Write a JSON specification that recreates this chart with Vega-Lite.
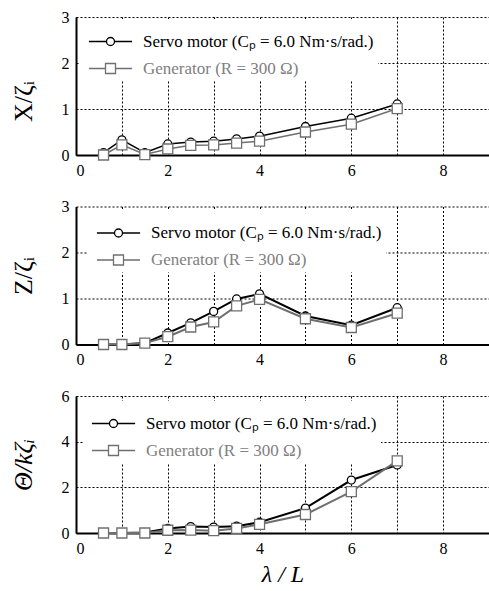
{
  "$schema": "https://vega.github.io/schema/vega-lite/v6.json",
  "padding": {"left": 10, "top": 9, "right": 0, "bottom": 0},
  "spacing": 20.5,
  "datasets": {
    "x_disp": [
      {"lambda": 0.6, "s": "servo", "v": 0.05}, {"lambda": 1.0, "s": "servo", "v": 0.33},
      {"lambda": 1.5, "s": "servo", "v": 0.05}, {"lambda": 2.0, "s": "servo", "v": 0.24},
      {"lambda": 2.5, "s": "servo", "v": 0.28}, {"lambda": 3.0, "s": "servo", "v": 0.30},
      {"lambda": 3.5, "s": "servo", "v": 0.35}, {"lambda": 4.0, "s": "servo", "v": 0.41},
      {"lambda": 5.0, "s": "servo", "v": 0.62}, {"lambda": 6.0, "s": "servo", "v": 0.80},
      {"lambda": 7.0, "s": "servo", "v": 1.11},
      {"lambda": 0.6, "s": "gen", "v": 0.0}, {"lambda": 1.0, "s": "gen", "v": 0.22},
      {"lambda": 1.5, "s": "gen", "v": 0.01}, {"lambda": 2.0, "s": "gen", "v": 0.13},
      {"lambda": 2.5, "s": "gen", "v": 0.21}, {"lambda": 3.0, "s": "gen", "v": 0.22},
      {"lambda": 3.5, "s": "gen", "v": 0.26}, {"lambda": 4.0, "s": "gen", "v": 0.30},
      {"lambda": 5.0, "s": "gen", "v": 0.50}, {"lambda": 6.0, "s": "gen", "v": 0.67},
      {"lambda": 7.0, "s": "gen", "v": 1.01}
    ],
    "z_disp": [
      {"lambda": 0.6, "s": "servo", "v": 0.0}, {"lambda": 1.0, "s": "servo", "v": 0.0},
      {"lambda": 1.5, "s": "servo", "v": 0.03}, {"lambda": 2.0, "s": "servo", "v": 0.25},
      {"lambda": 2.5, "s": "servo", "v": 0.47}, {"lambda": 3.0, "s": "servo", "v": 0.72},
      {"lambda": 3.5, "s": "servo", "v": 0.99}, {"lambda": 4.0, "s": "servo", "v": 1.10},
      {"lambda": 5.0, "s": "servo", "v": 0.62}, {"lambda": 6.0, "s": "servo", "v": 0.42},
      {"lambda": 7.0, "s": "servo", "v": 0.80},
      {"lambda": 0.6, "s": "gen", "v": 0.0}, {"lambda": 1.0, "s": "gen", "v": 0.0},
      {"lambda": 1.5, "s": "gen", "v": 0.03}, {"lambda": 2.0, "s": "gen", "v": 0.17},
      {"lambda": 2.5, "s": "gen", "v": 0.38}, {"lambda": 3.0, "s": "gen", "v": 0.49},
      {"lambda": 3.5, "s": "gen", "v": 0.84}, {"lambda": 4.0, "s": "gen", "v": 0.98},
      {"lambda": 5.0, "s": "gen", "v": 0.56}, {"lambda": 6.0, "s": "gen", "v": 0.37},
      {"lambda": 7.0, "s": "gen", "v": 0.68}
    ],
    "pitch": [
      {"lambda": 0.6, "s": "servo", "v": 0.0}, {"lambda": 1.0, "s": "servo", "v": 0.0},
      {"lambda": 1.5, "s": "servo", "v": 0.02}, {"lambda": 2.0, "s": "servo", "v": 0.20},
      {"lambda": 2.5, "s": "servo", "v": 0.28}, {"lambda": 3.0, "s": "servo", "v": 0.26},
      {"lambda": 3.5, "s": "servo", "v": 0.30}, {"lambda": 4.0, "s": "servo", "v": 0.47},
      {"lambda": 5.0, "s": "servo", "v": 1.09}, {"lambda": 6.0, "s": "servo", "v": 2.32},
      {"lambda": 7.0, "s": "servo", "v": 2.98},
      {"lambda": 0.6, "s": "gen", "v": 0.0}, {"lambda": 1.0, "s": "gen", "v": 0.0},
      {"lambda": 1.5, "s": "gen", "v": 0.0}, {"lambda": 2.0, "s": "gen", "v": 0.12},
      {"lambda": 2.5, "s": "gen", "v": 0.13}, {"lambda": 3.0, "s": "gen", "v": 0.10},
      {"lambda": 3.5, "s": "gen", "v": 0.20}, {"lambda": 4.0, "s": "gen", "v": 0.38},
      {"lambda": 5.0, "s": "gen", "v": 0.81}, {"lambda": 6.0, "s": "gen", "v": 1.81},
      {"lambda": 7.0, "s": "gen", "v": 3.16}
    ]
  },
  "config": {
    "font": "Liberation Serif",
    "view": {"stroke": null},
    "axis": {
      "labelFont": "Liberation Serif",
      "labelFontSize": 16,
      "labelColor": "black",
      "titleFont": "Liberation Serif",
      "titleFontWeight": "normal",
      "titleColor": "black",
      "ticks": false,
      "domainColor": "black",
      "domainWidth": 2,
      "gridColor": "black",
      "gridOpacity": 1,
      "gridWidth": 1,
      "gridDash": [2, 2],
      "labelPadding": 7
    },
    "legend": {
      "orient": "none",
      "titleFontSize": 2,
      "titlePadding": 8,
      "fillColor": "white",
      "padding": 4,
      "labelFont": "Liberation Serif",
      "labelFontSize": 17,
      "labelLimit": 400,
      "symbolSize": 64,
      "symbolStrokeWidth": 1.3,
      "symbolOffset": 18,
      "labelOffset": 24,
      "rowPadding": 9
    }
  },
  "resolve": {
    "scale": {"color": "independent"},
    "legend": {"color": "independent"}
  },
  "vconcat": [
    {
      "width": 413,
      "height": 138,
      "data": {"name": "x_disp"},
      "encoding": {
        "x": {"field": "lambda", "type": "quantitative",
              "scale": {"domain": [0, 9], "nice": false},
              "axis": {"values": [0, 1, 2, 3, 4, 5, 6, 7, 8, 9], "labelExpr": "datum.value % 2 === 0 ? datum.label : ''", "title": null}},
        "y": {"field": "v", "type": "quantitative",
              "scale": {"domain": [0, 3], "nice": false},
              "axis": {"values": [0, 1, 2, 3], "title": "X/ζᵢ", "titleFontSize": 26, "titlePadding": 25, "titleY": 84}},
        "color": {"field": "s", "type": "nominal",
                  "scale": {"domain": ["servo", "gen"], "range": ["black", "#6f6f6f"]},
                  "legend": {
                    "title": " ",
                    "legendX": 4, "legendY": 2,
                    "labelExpr": "datum.value === 'servo' ? 'Servo motor (Cₚ = 6.0 Nm·s/rad.)' : 'Generator (R = 300 Ω)'",
                    "encode": {
                      "symbols": {"update": {
                        "shape": {"signal": "datum.value === 'servo' ? 'M-5.4,0L-1,0M1,0L5.4,0M-1,0A1,1,0,1,0,1,0A1,1,0,1,0,-1,0' : 'M-5.4,0L-1.25,0M1.25,0L5.4,0M-1.25,-1.25L1.25,-1.25L1.25,1.25L-1.25,1.25Z'"},
                        "fill": {"value": "white"}
                      }},
                      "labels": {"update": {"fill": {"signal": "datum.value === 'servo' ? 'black' : '#808080'"}}}
                    }
                  }}
      },
      "layer": [
        {"mark": {"type": "line", "strokeWidth": 1.5}},
        {"transform": [{"filter": "datum.s === 'servo'"}],
         "mark": {"type": "point", "shape": "circle", "size": 64, "filled": false, "fill": "white", "fillOpacity": 1, "opacity": 1, "strokeWidth": 1.3}},
        {"transform": [{"filter": "datum.s === 'gen'"}],
         "mark": {"type": "point", "shape": "square", "size": 100, "filled": false, "fill": "white", "fillOpacity": 1, "opacity": 1, "strokeWidth": 1.3}}
      ]
    },
    {
      "width": 413,
      "height": 138,
      "data": {"name": "z_disp"},
      "encoding": {
        "x": {"field": "lambda", "type": "quantitative",
              "scale": {"domain": [0, 9], "nice": false},
              "axis": {"values": [0, 1, 2, 3, 4, 5, 6, 7, 8, 9], "labelExpr": "datum.value % 2 === 0 ? datum.label : ''", "title": null}},
        "y": {"field": "v", "type": "quantitative",
              "scale": {"domain": [0, 3], "nice": false},
              "axis": {"values": [0, 1, 2, 3], "title": "Z/ζᵢ", "titleFontSize": 26, "titlePadding": 25}},
        "color": {"field": "s", "type": "nominal",
                  "scale": {"domain": ["servo", "gen"], "range": ["black", "#6f6f6f"]},
                  "legend": {
                    "title": " ",
                    "legendX": 12, "legendY": 4,
                    "labelExpr": "datum.value === 'servo' ? 'Servo motor (Cₚ = 6.0 Nm·s/rad.)' : 'Generator (R = 300 Ω)'",
                    "encode": {
                      "symbols": {"update": {
                        "shape": {"signal": "datum.value === 'servo' ? 'M-5.4,0L-1,0M1,0L5.4,0M-1,0A1,1,0,1,0,1,0A1,1,0,1,0,-1,0' : 'M-5.4,0L-1.25,0M1.25,0L5.4,0M-1.25,-1.25L1.25,-1.25L1.25,1.25L-1.25,1.25Z'"},
                        "fill": {"value": "white"}
                      }},
                      "labels": {"update": {"fill": {"signal": "datum.value === 'servo' ? 'black' : '#808080'"}}}
                    }
                  }}
      },
      "layer": [
        {"mark": {"type": "line", "strokeWidth": 2}},
        {"transform": [{"filter": "datum.s === 'servo'"}],
         "mark": {"type": "point", "shape": "circle", "size": 64, "filled": false, "fill": "white", "fillOpacity": 1, "opacity": 1, "strokeWidth": 1.3}},
        {"transform": [{"filter": "datum.s === 'gen'"}],
         "mark": {"type": "point", "shape": "square", "size": 100, "filled": false, "fill": "white", "fillOpacity": 1, "opacity": 1, "strokeWidth": 1.3}}
      ]
    },
    {
      "width": 413,
      "height": 137,
      "data": {"name": "pitch"},
      "encoding": {
        "x": {"field": "lambda", "type": "quantitative",
              "scale": {"domain": [0, 9], "nice": false},
              "axis": {"values": [0, 1, 2, 3, 4, 5, 6, 7, 8, 9], "labelExpr": "datum.value % 2 === 0 ? datum.label : ''",
                       "title": "λ / L", "titleFontSize": 24, "titleFontStyle": "italic", "titlePadding": 6}},
        "y": {"field": "v", "type": "quantitative",
              "scale": {"domain": [0, 6], "nice": false},
              "axis": {"values": [0, 2, 4, 6], "title": "Θ/kζᵢ", "titleFontSize": 26, "titleFontStyle": "italic", "titlePadding": 25}},
        "color": {"field": "s", "type": "nominal",
                  "scale": {"domain": ["servo", "gen"], "range": ["black", "#6f6f6f"]},
                  "legend": {
                    "title": " ",
                    "legendX": 7, "legendY": 5,
                    "labelExpr": "datum.value === 'servo' ? 'Servo motor (Cₚ = 6.0 Nm·s/rad.)' : 'Generator (R = 300 Ω)'",
                    "encode": {
                      "symbols": {"update": {
                        "shape": {"signal": "datum.value === 'servo' ? 'M-5.4,0L-1,0M1,0L5.4,0M-1,0A1,1,0,1,0,1,0A1,1,0,1,0,-1,0' : 'M-5.4,0L-1.25,0M1.25,0L5.4,0M-1.25,-1.25L1.25,-1.25L1.25,1.25L-1.25,1.25Z'"},
                        "fill": {"value": "white"}
                      }},
                      "labels": {"update": {"fill": {"signal": "datum.value === 'servo' ? 'black' : '#808080'"}}}
                    }
                  }}
      },
      "layer": [
        {"mark": {"type": "line", "strokeWidth": 2}},
        {"transform": [{"filter": "datum.s === 'servo'"}],
         "mark": {"type": "point", "shape": "circle", "size": 64, "filled": false, "fill": "white", "fillOpacity": 1, "opacity": 1, "strokeWidth": 1.3}},
        {"transform": [{"filter": "datum.s === 'gen'"}],
         "mark": {"type": "point", "shape": "square", "size": 100, "filled": false, "fill": "white", "fillOpacity": 1, "opacity": 1, "strokeWidth": 1.3}}
      ]
    }
  ]
}
